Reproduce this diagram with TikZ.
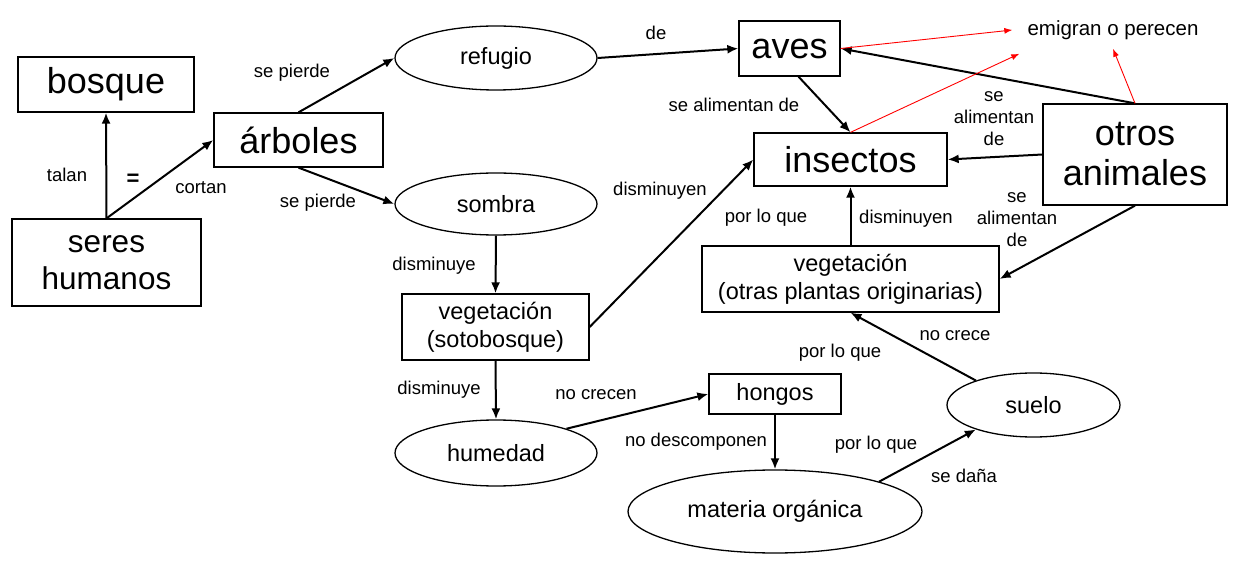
\documentclass[tikz,border=0pt]{standalone}
\usepackage{fontspec}
\setmainfont{Liberation Sans}
\usetikzlibrary{shapes.geometric,arrows.meta}
\tikzset{
  big/.style={font=\fontsize{36}{40}\selectfont},
  mid/.style={font=\fontsize{23.5}{28}\selectfont},
  sml/.style={font=\fontsize{18.5}{22}\selectfont, align=center, inner sep=0pt},
  box/.style={draw, line width=1.3pt, rectangle, inner sep=0pt, align=center},
  ell/.style={draw, line width=1.3pt, ellipse, inner sep=0pt, mid},
  arr/.style={line width=2pt, -{Latex[length=11pt,width=9pt]}},
  rarr/.style={draw=red, line width=0.9pt, -{Latex[length=8pt,width=6pt]}},
}
\begin{document}
\begin{tikzpicture}[x=1pt,y=-1pt]
\useasboundingbox (0,0) rectangle (1251,561);
% nodes
\node[box,big,minimum width=176,minimum height=55] (bos) at (106,84.5) {bosque};
\node[box,big,minimum width=169,minimum height=54] (arb) at (298.5,140) {árboles};
\node[box,font=\fontsize{31.5}{37}\selectfont,minimum width=189,minimum height=87] (sh) at (106.5,262.5) {seres\\humanos};
\node[ell,minimum width=202,minimum height=64] (ref) at (496,58) {refugio};
\node[ell,minimum width=202,minimum height=62] (som) at (496,204) {sombra};
\node[box,mid,minimum width=187,minimum height=66] (sot) at (495.5,327) {vegetación\\(sotobosque)};
\node[ell,minimum width=202,minimum height=66] (hum) at (496,453) {humedad};
\node[box,mid,minimum width=132,minimum height=40] (hon) at (775,394) {hongos};
\node[ell,minimum width=294,minimum height=83] (mat) at (775,511.5) {materia orgánica};
\node[ell,minimum width=173,minimum height=64] (sue) at (1033.5,405) {suelo};
\node[box,mid,minimum width=297,minimum height=66] (op) at (850.5,279) {vegetación\\(otras plantas originarias)};
\node[box,big,minimum width=193,minimum height=53] (ins) at (850.5,159.5) {insectos};
\node[box,big,minimum width=101,minimum height=55] (aves) at (789.5,48.5) {aves};
\node[box,big,minimum width=184,minimum height=101] (oa) at (1135,154.5) {otros\\animales};
\node[font=\fontsize{20.5}{24}\selectfont,inner xsep=15pt,inner ysep=9pt] (emig) at (1113,30) {emigran o perecen};
% labels
\node[sml] (l1) at (67,175) {talan};
\node[font=\fontsize{22}{24}\selectfont\bfseries,inner sep=0pt] (l2) at (133,180) {=};
\node[sml] (l3) at (201,188) {cortan};
\node[sml] (l4) at (292,73) {se pierde};
\node[sml] (l5) at (318,203) {se pierde};
\node[sml] (l6) at (656,33) {de};
\node[sml] (l7) at (434,266) {disminuye};
\node[sml] (l8) at (660,191) {disminuyen};
\node[sml] (l9) at (439,390) {disminuye};
\node[sml] (l10) at (596,395) {no crecen};
\node[sml] (l11) at (696,442) {no descomponen};
\node[sml] (l12) at (876,445) {por lo que};
\node[sml] (l13) at (964,476) {se daña};
\node[sml] (l14) at (955,336) {no crece};
\node[sml] (l15) at (840,353) {por lo que};
\node[sml] (l16) at (906,219) {disminuyen};
\node[sml] (l17) at (766,218) {por lo que};
\node[sml] (l18) at (734,105) {se alimentan de};
\node[sml] (l19) at (994,119) {se\\alimentan\\de};
\node[sml] (l20) at (1017,220) {se\\alimentan\\de};
% connectors
\draw[arr] (sh.north) -- (bos.south);
\draw[arr] (sh.north) -- (arb.west);
\draw[arr] (arb.north) -- (ref.west);
\draw[arr] (arb.south) -- (som.west);
\draw[arr] (ref.east) -- (aves.west);
\draw[arr] (som.south) -- (sot.north);
\draw[arr] (sot.east) -- (ins.west);
\draw[arr] (sot.south) -- (hum.north);
\draw[arr] (hum.19) -- (hon.west);
\draw[arr] (hon.south) -- (mat.north);
\draw[arr] (mat.16) -- (sue.203);
\draw[arr] (sue.157) -- (op.south);
\draw[arr] (op.north) -- (ins.south);
\draw[arr] ([xshift=9pt]aves.south) -- (ins.north);
\draw[arr] (oa.west) -- (ins.east);
\draw[arr] (oa.south) -- (op.east);
\draw[arr] (oa.north) -- (aves.east);
\draw[rarr] (aves.east) -- (emig.west);
\draw[rarr] (ins.north) -- ([xshift=7pt,yshift=-5pt]emig.south west);
\draw[rarr] (oa.north) -- (emig.south);
\end{tikzpicture}
\end{document}
